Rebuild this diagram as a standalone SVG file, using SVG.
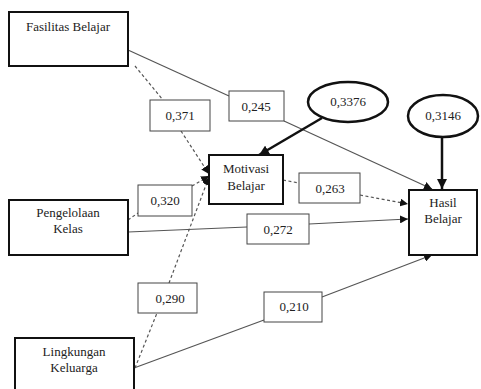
<svg xmlns="http://www.w3.org/2000/svg" width="481" height="389" viewBox="0 0 481 389">
<style>
.node{fill:#fff;stroke:#111;stroke-width:2}
.lab{fill:#fff;stroke:#444;stroke-width:1}
.ell{fill:#fff;stroke:#111;stroke-width:2.5}
.s{fill:none;stroke:#555;stroke-width:1.2}
.d{fill:none;stroke:#555;stroke-width:1.2;stroke-dasharray:3,2.5}
.b{fill:none;stroke:#111;stroke-width:2.5}
</style>
<defs>
<marker id="ah" viewBox="0 0 10 10" refX="10" refY="5" markerWidth="8" markerHeight="8" markerUnits="userSpaceOnUse" orient="auto"><path d="M0,0L10,5L0,10z" fill="#111"/></marker>
<marker id="ahb" viewBox="0 0 10 10" refX="10" refY="5" markerWidth="10" markerHeight="10" markerUnits="userSpaceOnUse" orient="auto"><path d="M0,0L10,5L0,10z" fill="#111"/></marker>
</defs>
<g id="connectors">
<line class="s" x1="128" y1="50" x2="229" y2="96"/>
<line class="s" x1="284" y1="121" x2="432" y2="189" marker-end="url(#ah)"/>
<line class="d" x1="135" y1="66" x2="163" y2="100"/>
<line class="d" x1="181" y1="131" x2="209" y2="174" marker-end="url(#ah)"/>
<line class="d" x1="128" y1="220" x2="138" y2="213"/>
<line class="d" x1="192" y1="186" x2="209" y2="176" marker-end="url(#ah)"/>
<line class="d" x1="135" y1="368" x2="157" y2="313"/>
<line class="d" x1="169" y1="283" x2="209" y2="177" marker-end="url(#ah)"/>
<line class="s" x1="128" y1="232" x2="247" y2="227"/>
<line class="s" x1="309" y1="224" x2="408" y2="219" marker-end="url(#ah)"/>
<line class="d" x1="283" y1="180" x2="299" y2="183"/>
<line class="d" x1="360" y1="195" x2="408" y2="204" marker-end="url(#ah)"/>
<line class="s" x1="134" y1="368" x2="264" y2="320"/>
<line class="s" x1="322" y1="297" x2="432" y2="255" marker-end="url(#ah)"/>
<line class="b" x1="322" y1="118" x2="259" y2="155" marker-end="url(#ahb)"/>
<line class="b" x1="442" y1="137" x2="442" y2="189" marker-end="url(#ahb)"/>
</g>
<g font-family="Liberation Serif, Times New Roman, serif" font-size="13" fill="#222" text-anchor="middle">
<g id="fasilitas"><rect class="node" x="9" y="12" width="119" height="54"/><text x="68" y="31">Fasilitas Belajar</text></g>
<g id="pengelolaan"><rect class="node" x="9" y="200" width="119" height="55"/><text x="68" y="217">Pengelolaan</text><text x="68" y="233">Kelas</text></g>
<g id="lingkungan"><rect class="node" x="15" y="338" width="119" height="60"/><text x="74" y="356">Lingkungan</text><text x="74" y="372">Keluarga</text></g>
<g id="motivasi"><rect class="node" x="209" y="155" width="74" height="49"/><text x="246" y="173">Motivasi</text><text x="246" y="190">Belajar</text></g>
<g id="hasil"><rect class="node" x="409" y="190" width="68" height="65"/><text x="443" y="207">Hasil</text><text x="443" y="223">Belajar</text></g>
<g id="e1"><ellipse class="ell" cx="348" cy="102" rx="40" ry="20"/><text x="348" y="106">0,3376</text></g>
<g id="e2"><ellipse class="ell" cx="443" cy="116" rx="35" ry="21"/><text x="443" y="120">0,3146</text></g>
<g id="l371"><rect class="lab" x="150" y="100" width="60" height="31"/><text x="180" y="120">0,371</text></g>
<g id="l245"><rect class="lab" x="229" y="91" width="55" height="30"/><text x="256" y="111">0,245</text></g>
<g id="l320"><rect class="lab" x="138" y="185" width="54" height="31"/><text x="165" y="205">0,320</text></g>
<g id="l263"><rect class="lab" x="299" y="173" width="61" height="30"/><text x="330" y="193">0,263</text></g>
<g id="l272"><rect class="lab" x="247" y="214" width="62" height="30"/><text x="278" y="234">0,272</text></g>
<g id="l290"><rect class="lab" x="138" y="283" width="59" height="30"/><text x="170" y="303">0,290</text></g>
<g id="l210"><rect class="lab" x="264" y="292" width="58" height="30"/><text x="294" y="311">0,210</text></g>
</g>
</svg>
